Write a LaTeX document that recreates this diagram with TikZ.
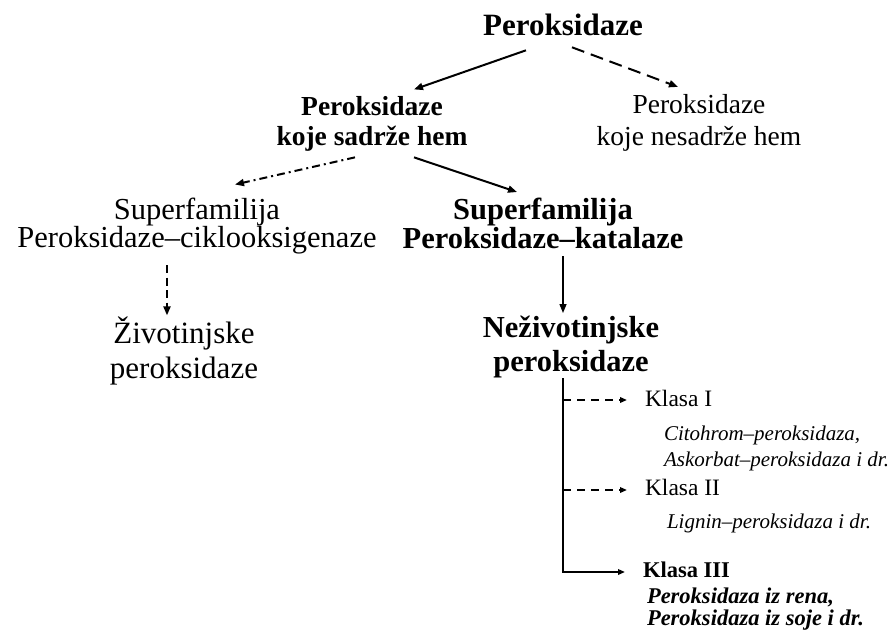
\documentclass[tikz,border=0pt]{standalone}
\usepackage{fontspec}
\setmainfont{Liberation Serif}
\usetikzlibrary{arrows.meta,calc}
\begin{document}
\begin{tikzpicture}[x=1pt,y=-1pt,
  txt/.style={inner sep=0pt,outer sep=0pt,align=center,anchor=base},
  ttl/.style={txt,font=\fontsize{31}{36}\selectfont\bfseries},
  lvtwob/.style={txt,font=\fontsize{27.5}{30}\selectfont\bfseries},
  lvtwor/.style={txt,font=\fontsize{27.5}{32}\selectfont},
  lvthreer/.style={txt,font=\fontsize{30.5}{28}\selectfont},
  lvthreeb/.style={txt,font=\fontsize{30.5}{29}\selectfont\bfseries},
  lvfourr/.style={txt,font=\fontsize{31}{35}\selectfont},
  lvfourb/.style={txt,font=\fontsize{30.5}{34}\selectfont\bfseries},
  kl/.style={txt,anchor=base west,align=left,font=\fontsize{23.5}{26}\selectfont},
  klb/.style={txt,anchor=base west,align=left,font=\fontsize{22.5}{26}\selectfont\bfseries},
  kit/.style={txt,anchor=base west,align=left,font=\fontsize{21}{26}\selectfont\itshape},
  kbi/.style={txt,anchor=base west,align=left,font=\fontsize{22.5}{22}\selectfont\bfseries\itshape},
  tipbig/.style={-{Triangle[length=9pt,width=7pt]}},
  tipsmall/.style={-{Triangle[length=7pt,width=5.5pt]}},
  solidarrow/.style={line width=2pt,tipbig},
  dasharrow/.style={line width=2pt,tipbig,dash pattern=on 13pt off 7pt},
  dashdotarrow/.style={line width=2pt,tipbig,dash pattern=on 8pt off 4pt on 2pt off 4pt},
  vdasharrow/.style={line width=2pt,tipbig,dash pattern=on 8pt off 4.5pt},
  thinarrow/.style={line width=1.4pt,tipbig},
  bracketline/.style={line width=2.5pt,tipsmall},
  branch/.style={line width=2pt,tipsmall,dash pattern=on 8pt off 6pt},
]
\useasboundingbox (0,0) rectangle (894,632);

% multi-line nodes are placed by the baseline of their last line
\node[ttl] (top) at (563,35) {Peroksidaze};
\node[lvtwob] (hem) at (372,145) {Peroksidaze\\koje sadrže hem};
\node[lvtwor] (nohem) at (699,145) {Peroksidaze\\koje nesadrže hem};
\node[lvthreer] (pcs) at (197,247) {Superfamilija\\Peroksidaze–ciklooksigenaze};
\node[lvthreeb] (pks) at (543,248) {Superfamilija\\Peroksidaze–katalaze};
\node[lvfourr] (ziv) at (184,378) {Životinjske\\peroksidaze};
\node[lvfourb] (neziv) at (571,371) {Neživotinjske\\peroksidaze};
\node[kl] (k1) at (645,406) {Klasa I};
\node[kit] (k1d) at (664,466) {Citohrom–peroksidaza,\\Askorbat–peroksidaza i dr.};
\node[kl] (k2) at (645,495) {Klasa II};
\node[kit] (k2d) at (667,528) {Lignin–peroksidaza i dr.};
\node[klb] (k3) at (643,577) {Klasa III};
\node[kbi] (k3d) at (647,625) {Peroksidaza iz rena,\\Peroksidaza iz soje i dr.};

% level 1 -> level 2
\draw[solidarrow] ($(top.south)+(-37,15)$) -- ($(hem.north)+(42,-6.5)$);
\draw[dasharrow] ($(top.south)+(9,12)$) -- ($(nohem.north)+(-21,-7)$);
% level 2 -> level 3
\draw[solidarrow] ($(hem.south)+(42,6.5)$) -- ($(pks.north)+(-26,-5.5)$);
\draw[dashdotarrow] ($(hem.south)+(-17,6.5)$) -- ($(pcs.north)+(38,-13)$);
% level 3 -> level 4
\draw[vdasharrow] ($(pcs.south)+(-30,11.5)$) -- ($(ziv.north)+(-17,-1)$);
\draw[thinarrow] ($(pks.south)+(20,8)$) -- ($(neziv.north)+(-8,-2.5)$);
% classes
\coordinate (bt) at ($(neziv.south)+(-8,1)$);
\coordinate (t1) at ($(k1.base west)+(-18,-6)$);
\coordinate (t2) at ($(k2.base west)+(-18,-5)$);
\coordinate (t3) at ($(k3.base west)+(-18,-5)$);
\draw[bracketline] (bt) |- (t3);
\draw[branch] (t1 -| bt) -- (t1);
\draw[branch] (t2 -| bt) -- (t2);
\end{tikzpicture}
\end{document}
